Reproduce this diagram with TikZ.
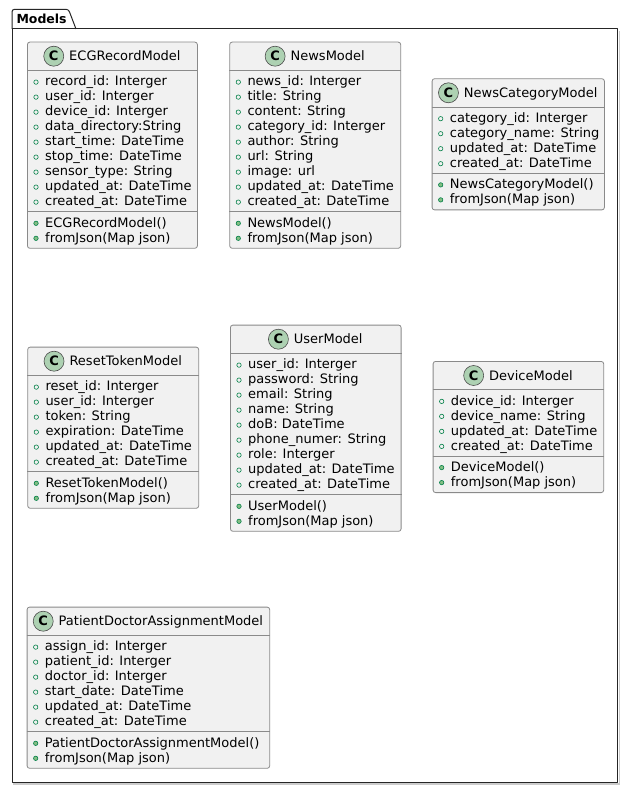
\documentclass[tikz,border=0pt]{standalone}
\usepackage{fontspec}
\setmainfont{DejaVu Sans}
\usetikzlibrary{positioning}

\definecolor{umlline}{HTML}{8A8A8A}
\definecolor{umlfill}{HTML}{F1F1F1}
\definecolor{spotgreen}{HTML}{ADD1B2}
\definecolor{fieldgreen}{HTML}{038048}
\definecolor{methodgreen}{HTML}{84BE84}

\newcommand{\membfont}{\fontsize{13pt}{15pt}\selectfont}

\tikzset{
  classbox/.style={draw=umlline, fill=umlfill, rounded corners=2.5pt,
    line width=0.8pt, inner sep=0pt, anchor=north west},
  sepline/.style={draw=umlline, line width=0.8pt},
  member/.style={anchor=west, inner sep=0pt, font=\membfont,
    text height=9.5pt, text depth=0pt},
  fieldmark/.style={circle, draw=fieldgreen, line width=0.6pt,
    minimum size=4.4pt, inner sep=0pt},
  methodmark/.style={fieldmark, fill=methodgreen},
  spot/.style={circle, draw=black!70, fill=spotgreen, line width=0.6pt,
    minimum size=20pt, inner sep=0pt, font=\membfont\bfseries},
  pkgline/.style={draw=black!85, line width=1pt, line join=round},
}

% #1 name, #2 left, #3 top, #4 width, #5 title, #6 fields, #7 methods
\newcommand{\umlclass}[7]{%
  \foreach \a [count=\k] in {#6} {\xdef\nattr{\k}}
  \foreach \a [count=\k] in {#7} {\xdef\nmeth{\k}}
  \pgfmathsetmacro{\msep}{28.8+15*\nattr+6.2}
  \pgfmathsetmacro{\boxh}{\msep+15*\nmeth+6.2}
  \node[classbox, minimum width=#4pt, minimum height=\boxh pt] (#1) at (#2,#3) {};
  \draw[sepline] ([yshift=-28.8pt]#1.north west) -- ([yshift=-28.8pt]#1.north east);
  \draw[sepline] ([yshift=-\msep pt]#1.north west) -- ([yshift=-\msep pt]#1.north east);
  \node[member, anchor=center] (#1-title) at ([xshift=12.5pt, yshift=-14.5pt]#1.north) {#5};
  \node[spot, left=5pt of #1-title] (#1-spot) {C};
  \foreach \a [count=\k, evaluate=\k as \yy using 39.4+15*(\k-1)] in {#6} {
    \node[fieldmark] (#1-fm\k) at ([xshift=9pt, yshift=-\yy pt-1pt]#1.north west) {};
    \node[member] (#1-f\k) at ([xshift=18pt, yshift=-\yy pt]#1.north west) {\a};
  }
  \foreach \a [count=\k, evaluate=\k as \yy using \msep+10.6+15*(\k-1)] in {#7} {
    \node[methodmark] (#1-mm\k) at ([xshift=9pt, yshift=-\yy pt-1pt]#1.north west) {};
    \node[member] (#1-m\k) at ([xshift=18pt, yshift=-\yy pt]#1.north west) {\a};
  }
}

\begin{document}
\begin{tikzpicture}[x=1pt, y=-1pt]
  \useasboundingbox[fill=white] (0,0) rectangle (623,794);
  % package frame
  \draw[gray!40, line width=1.2pt] (13.5,31) -- (13.5,784) -- (619.2,784) -- (619.2,31);
  \draw[pkgline, fill=white] (12,29) -- (617.7,29) -- (617.7,782.5) -- (12,782.5) -- cycle;
  \draw[pkgline, rounded corners=2.5pt] (12,29) -- (12,9.3) -- (68.5,9.3)
    [sharp corners] -- (76,29);
  \node[anchor=base west, inner sep=0pt, font=\fontsize{12.5pt}{14pt}\selectfont\bfseries]
    (pkgtitle) at (16.3,23.5) {Models};

  \umlclass{ecg}{27}{41.7}{170}{ECGRecordModel}
    {record\_id: Interger, user\_id: Interger, device\_id: Interger,
     data\_directory:String, start\_time: DateTime, stop\_time: DateTime,
     sensor\_type: String, updated\_at: DateTime, created\_at: DateTime}
    {ECGRecordModel(), fromJson(Map json)}
  \umlclass{news}{229.3}{41.7}{171}{NewsModel}
    {news\_id: Interger, title: String, content: String,
     category\_id: Interger, author: String, url: String, image: url,
     updated\_at: DateTime, created\_at: DateTime}
    {NewsModel(), fromJson(Map json)}
  \umlclass{newscat}{431.7}{78.3}{172.3}{NewsCategoryModel}
    {category\_id: Interger, category\_name: String,
     updated\_at: DateTime, created\_at: DateTime}
    {NewsCategoryModel(), fromJson(Map json)}
  \umlclass{reset}{27.3}{346.7}{171}{ResetTokenModel}
    {reset\_id: Interger, user\_id: Interger, token: String,
     expiration: DateTime, updated\_at: DateTime, created\_at: DateTime}
    {ResetTokenModel(), fromJson(Map json)}
  \umlclass{user}{230}{324.7}{170.7}{UserModel}
    {user\_id: Interger, password: String, email: String, name: String,
     doB: DateTime, phone\_numer: String, role: Interger,
     updated\_at: DateTime, created\_at: DateTime}
    {UserModel(), fromJson(Map json)}
  \umlclass{device}{432.7}{361}{170.6}{DeviceModel}
    {device\_id: Interger, device\_name: String,
     updated\_at: DateTime, created\_at: DateTime}
    {DeviceModel(), fromJson(Map json)}
  \umlclass{assign}{26.7}{606.7}{242.6}{PatientDoctorAssignmentModel}
    {assign\_id: Interger, patient\_id: Interger, doctor\_id: Interger,
     start\_date: DateTime, updated\_at: DateTime, created\_at: DateTime}
    {PatientDoctorAssignmentModel(), fromJson(Map json)}
\end{tikzpicture}
\end{document}
